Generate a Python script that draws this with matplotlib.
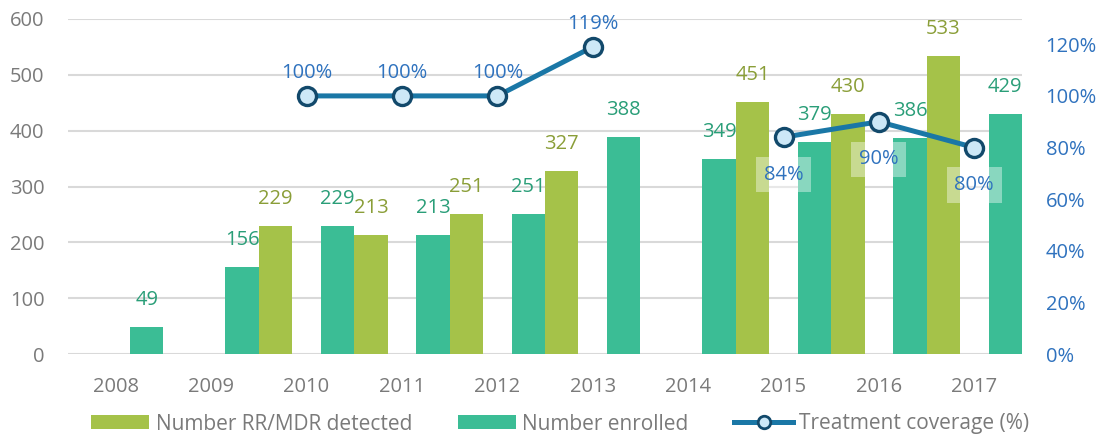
import numpy as np
import matplotlib
matplotlib.use("Agg")
import matplotlib.pyplot as plt
from matplotlib.lines import Line2D
from matplotlib.patches import Patch

plt.rcParams["font.family"] = ["Open Sans", "DejaVu Sans"]

# Data by year
years = ["2008", "2009", "2010", "2011", "2012", "2013", "2014", "2015", "2016", "2017"]
detected = [np.nan, np.nan, 229, 213, 251, 327, np.nan, 451, 430, 533]
enrolled = [49, 156, 229, 213, 251, 388, 349, 379, 386, 429]
coverage = [np.nan, np.nan, 100, 100, 100, 119, np.nan, 84, 90, 80]

# Colours
c_det = "#A5C249"
c_enr = "#3BBD95"
c_det_txt = "#8A9E38"
c_enr_txt = "#2A9E78"
c_line = "#1A77A6"
c_mark_edge = "#12496B"
c_mark_face = "#CDE8F7"
c_pct = "#2F72BE"
c_grey = "#7A7A7A"
c_grid = "#D9D9D9"

fs = 14.5

fig = plt.figure(figsize=(11.05, 4.38), dpi=100)
ax = fig.add_axes([68 / 1105, 84 / 438, (1022 - 68) / 1105, (354 - 19) / 438])
ax2 = ax.twinx()

x = np.arange(len(years))
w = 0.35
x_det = x - 0.5 + w / 2
x_enr = x + 0.5 - w / 2

det_arr = np.array(detected, dtype=float)
enr_arr = np.array(enrolled, dtype=float)
ax.bar(x_det, np.nan_to_num(det_arr), width=w, color=c_det, zorder=2)
ax.bar(x_enr, enr_arr, width=w, color=c_enr, zorder=2)

for xi, v in zip(x_det, det_arr):
    if not np.isnan(v):
        ax.annotate(f"{int(v)}", (xi, v), xytext=(0, 19.5), textcoords="offset points",
                    ha="center", va="center", fontsize=fs, color=c_det_txt, zorder=4)
for xi, v in zip(x_enr, enr_arr):
    ax.annotate(f"{int(v)}", (xi, v), xytext=(0, 19.5), textcoords="offset points",
                ha="center", va="center", fontsize=fs, color=c_enr_txt, zorder=4)

ax.set_xlim(-0.5, len(years) - 0.5)
ax.set_ylim(0, 600)
ax.set_yticks(range(0, 601, 100))
ax.set_xticks(x)
ax.set_xticklabels(years)
ax.grid(axis="y", color=c_grid, linewidth=1.5, zorder=0)
ax.set_axisbelow(True)
for s in ax.spines.values():
    s.set_visible(False)
ax.tick_params(axis="y", length=0, pad=17, labelsize=fs, labelcolor=c_grey)
ax.tick_params(axis="x", length=0, pad=16.5, labelsize=fs, labelcolor=c_grey)

# Treatment coverage line on the secondary axis
cov = np.array(coverage, dtype=float) / 100.0
ax2.plot(x, cov, color=c_line, linewidth=3.6, marker="o", markersize=13,
         markerfacecolor=c_mark_face, markeredgecolor=c_mark_edge, markeredgewidth=2.4,
         zorder=5)
above = [True, True, True, True, True, True, True, False, False, False]
for xi, v, up in zip(x, cov, above):
    if np.isnan(v):
        continue
    if up:
        ax2.annotate(f"{v * 100:.0f}%", (xi, v), xytext=(0, 16.5), textcoords="offset points",
                     ha="center", va="center", fontsize=fs, color=c_pct, zorder=6)
    else:
        ax2.annotate(f"{v * 100:.0f}%", (xi, v), xytext=(0, -27), textcoords="offset points",
                     ha="center", va="center", fontsize=fs, color=c_pct, zorder=6,
                     bbox=dict(boxstyle="square,pad=0.38", facecolor="white", edgecolor="none",
                               alpha=0.4))

ax2.set_ylim(0, 1.298)
ax2.set_yticks(np.arange(0, 1.21, 0.2))
ax2.set_yticklabels([f"{int(round(t * 100))}%" for t in np.arange(0, 1.21, 0.2)])
for s in ax2.spines.values():
    s.set_visible(False)
ax2.tick_params(axis="y", length=0, pad=17, labelsize=fs, labelcolor=c_pct)

handles = [
    Patch(facecolor=c_det, edgecolor="none", label="Number RR/MDR detected"),
    Patch(facecolor=c_enr, edgecolor="none", label="Number enrolled"),
    Line2D([0], [0], color=c_line, linewidth=3.6, marker="o", markersize=9,
           markerfacecolor=c_mark_face, markeredgecolor=c_mark_edge, markeredgewidth=2,
           label="Treatment coverage (%)"),
]
leg = fig.legend(handles=handles, loc="center", bbox_to_anchor=(560 / 1105, 1 - 424 / 438),
                 ncol=3, frameon=False, fontsize=15, handlelength=2.8, handleheight=0.62,
                 handletextpad=0.3, columnspacing=2.2, borderpad=0)
for t in leg.get_texts():
    t.set_color(c_grey)

fig.savefig("out.png", dpi=100)
